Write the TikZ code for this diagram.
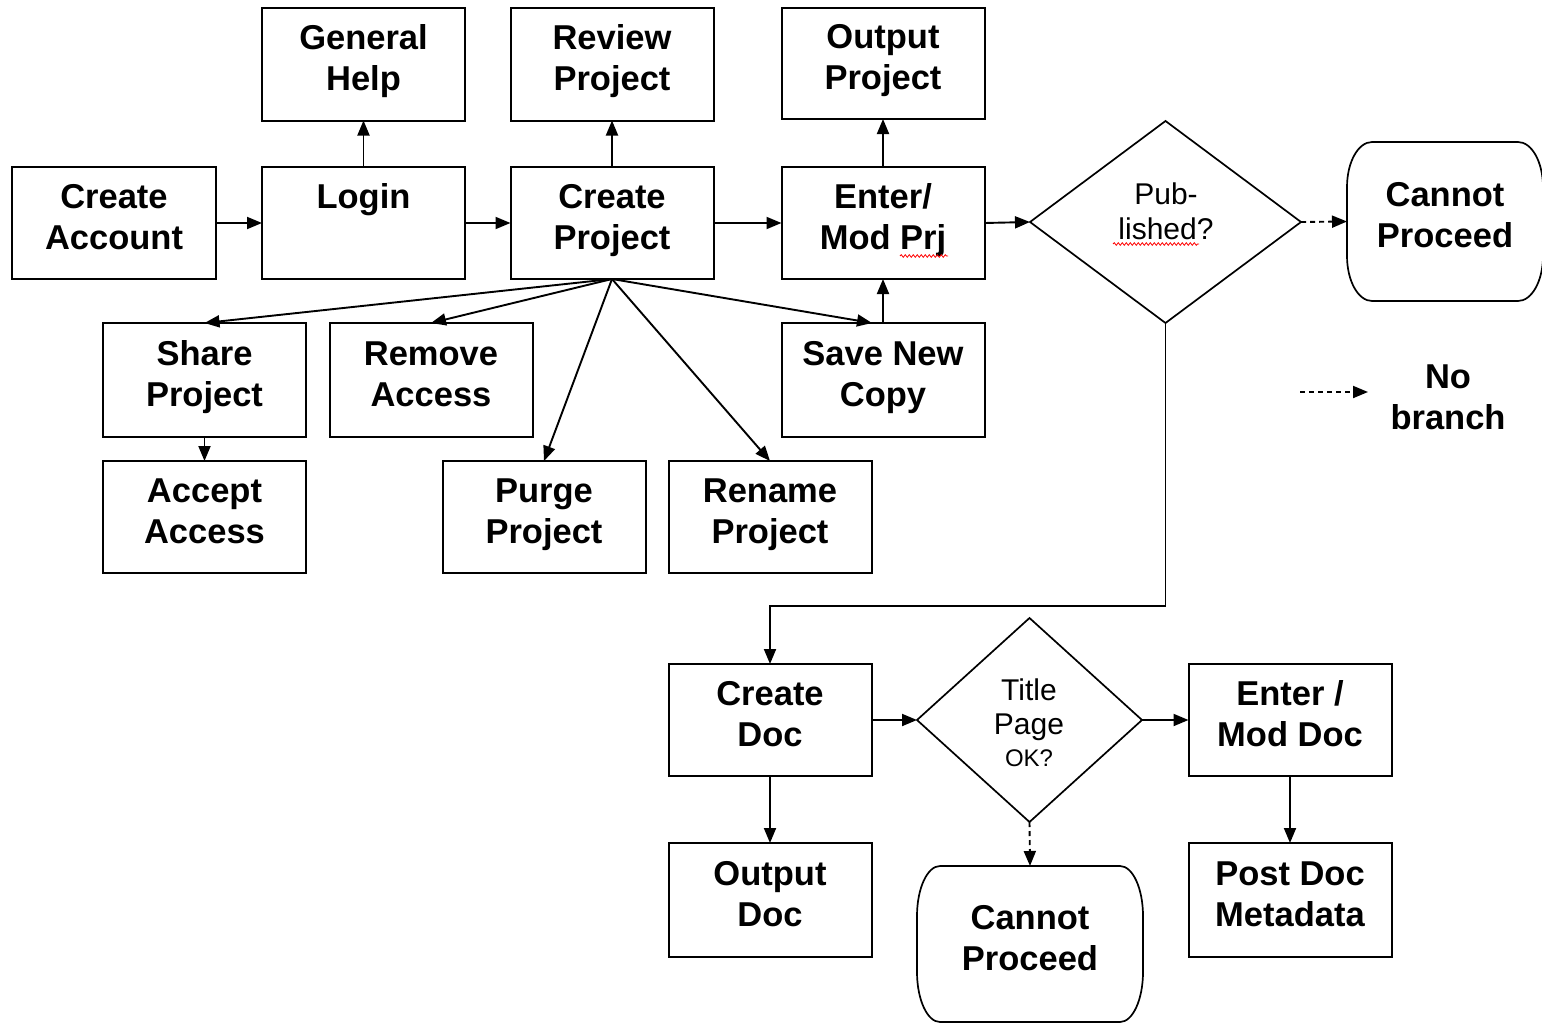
\documentclass[tikz,border=0pt]{standalone}
\usepackage{fontspec}
\setmainfont{Liberation Sans}
\usetikzlibrary{shapes.geometric,arrows.meta,calc,decorations.pathmorphing}
\newcommand\bxs{\rule[-15pt]{0pt}{41pt}}
\begin{document}
\begin{tikzpicture}[x=1pt,y=-1pt,
  box/.style={draw, line width=2pt, minimum width=203pt, minimum height=112pt, inner sep=0pt, outer sep=0pt, align=center, font=\bfseries\fontsize{34.5}{41}\selectfont},
  dia/.style={draw, diamond, line width=1.7pt, inner sep=0pt, outer sep=0pt},
  dtext/.style={anchor=base, font=\fontsize{30}{35}\selectfont, inner sep=0pt},
  arr/.style={line width=1.9pt, -{Triangle[length=15pt,width=12pt]}},
  noarr/.style={arr, dash pattern=on 5pt off 4pt},
  term/.style={line width=1.7pt},
  spell/.style={red, line width=0.8pt, decorate, decoration={snake, amplitude=1.3pt, segment length=4pt}}
]
\fill[white] (0,0) rectangle (1542,1025);
\useasboundingbox (0,0) rectangle (1542,1025);

% boxes
\node[box] (gh) at (363.5,64.5) {General\bxs\\Help\bxs};
\node[box] (rp) at (612,64.5) {Review\bxs\\Project\bxs};
\node[box, minimum height=111pt] (op) at (883,63.5) {Output\bxs\\Project\bxs};
\node[box, minimum width=204pt] (ca) at (114,223) {Create\bxs\\Account\bxs};
\node[box] (login) at (363.5,223) {Login\bxs\\\bxs};
\node[box] (cp) at (612,223) {Create\bxs\\Project\bxs};
\node[box] (emp) at (883,223) {Enter/\bxs\\Mod Prj\bxs};
\node[box, minimum height=114pt] (sp) at (204.5,380) {Share\bxs\\Project\bxs};
\node[box, minimum height=114pt] (ra) at (431,380) {Remove\bxs\\Access\bxs};
\node[box, minimum height=114pt] (snc) at (883,380) {Save New\bxs\\Copy\bxs};
\node[box] (aa) at (204.5,517) {Accept\bxs\\Access\bxs};
\node[box] (pp) at (544,517) {Purge\bxs\\Project\bxs};
\node[box] (rnp) at (770,517) {Rename\bxs\\Project\bxs};
\node[box] (cd) at (770,720) {Create\bxs\\Doc\bxs};
\node[box, minimum height=114pt] (od) at (770,900) {Output\bxs\\Doc\bxs};
\node[box] (emd) at (1290,720) {Enter /\bxs\\Mod Doc\bxs};
\node[box, minimum height=114pt] (pdm) at (1290,900) {Post Doc\bxs\\Metadata\bxs};

% decisions
\node[dia, minimum width=271pt, minimum height=202pt] (pub) at (1165.5,222) {};
\node[dia, minimum width=225pt, minimum height=204pt] (tp) at (1029.5,720) {};
\node[dtext] (pub1) at (1166,204) {Pub-};
\node[dtext] (pub2) at (1166,239) {lished?};
\node[dtext] (tp1) at (1029,700) {Title};
\node[dtext] (tp2) at (1029,734) {Page};
\node[dtext, font=\fontsize{24}{28}\selectfont] (tp3) at (1029,766) {OK?};

% terminators
\node[box, draw=none, minimum width=196pt, minimum height=159pt] (cn1) at (1445,221.5) {Cannot\bxs\\Proceed\bxs};
\node[box, draw=none, minimum width=226pt, minimum height=156pt] (cn2) at (1030,944) {Cannot\bxs\\Proceed\bxs};
\draw[term] ($(cn1.north west)+(25,0)$) -- ($(cn1.north east)+(-25,0)$)
  arc[start angle=270,end angle=360,x radius=25,y radius=45]
  -- ($(cn1.south east)+(0,-45)$)
  arc[start angle=0,end angle=90,x radius=25,y radius=45]
  -- ($(cn1.south west)+(25,0)$)
  arc[start angle=90,end angle=180,x radius=25,y radius=45]
  -- ($(cn1.north west)+(0,45)$)
  arc[start angle=180,end angle=270,x radius=25,y radius=45] -- cycle;
\draw[term] ($(cn2.north west)+(23,0)$) -- ($(cn2.north east)+(-23,0)$)
  arc[start angle=270,end angle=360,x radius=23,y radius=50]
  -- ($(cn2.south east)+(0,-50)$)
  arc[start angle=0,end angle=90,x radius=23,y radius=50]
  -- ($(cn2.south west)+(23,0)$)
  arc[start angle=90,end angle=180,x radius=23,y radius=50]
  -- ($(cn2.north west)+(0,50)$)
  arc[start angle=180,end angle=270,x radius=23,y radius=50] -- cycle;

% connectors
\draw[arr] (ca.east) -- (login.west);
\draw[arr] (login.east) -- (cp.west);
\draw[arr] (cp.east) -- (emp.west);
\draw[arr] (emp.east) -- (pub.west);
\draw[arr] (login.north) -- (gh.south);
\draw[arr] (cp.north) -- (rp.south);
\draw[arr] (emp.north) -- (op.south);
\draw[arr] (snc.north) -- (emp.south);
\draw[arr] (cp.south) -- (sp.north);
\draw[arr] (cp.south) -- (ra.north);
\draw[arr] (cp.south) -- (pp.north);
\draw[arr] (cp.south) -- (rnp.north);
\draw[arr] (cp.south) -- ($(snc.north)+(-11,0)$);
\draw[arr] (sp.south) -- (aa.north);
\draw[noarr] (pub.east) -- (cn1.west);
\draw[arr] (pub.south) -- ++(0,283) -| (cd.north);
\draw[arr] (cd.east) -- (tp.west);
\draw[arr] (tp.east) -- (emd.west);
\draw[arr] (cd.south) -- (od.north);
\draw[arr] (emd.south) -- (pdm.north);
\draw[noarr] (tp.south) -- (cn2.north);

% legend
\coordinate (lg1) at (1300,392);
\coordinate (lg2) at (1368,392);
\draw[noarr] (lg1) -- (lg2);
\node[box, draw=none, minimum width=0pt, minimum height=0pt] (nb) at (1448,403) {No\bxs\\branch\bxs};

% spell-check marks
\coordinate (sq1a) at (1113,244);
\coordinate (sq1b) at (1199,244);
\draw[spell] (sq1a) -- (sq1b);
\coordinate (sq2a) at (900,256);
\coordinate (sq2b) at (948,256);
\draw[spell] (sq2a) -- (sq2b);
\end{tikzpicture}
\end{document}
